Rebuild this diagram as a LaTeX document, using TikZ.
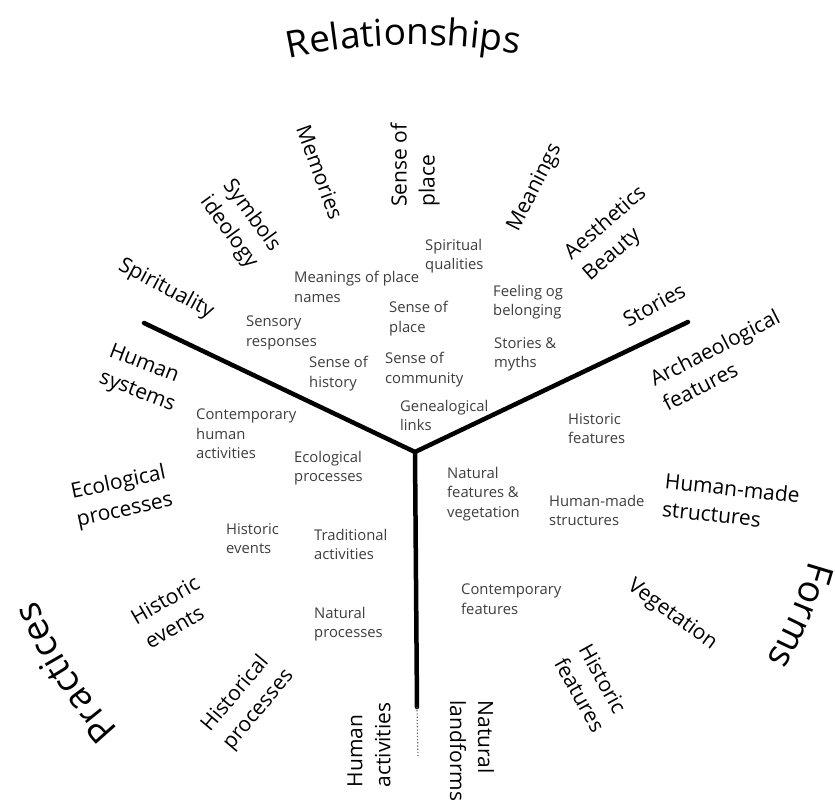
\documentclass[tikz,border=0pt]{standalone}
\usepackage{fontspec}
\setmainfont{Open Sans}
\usetikzlibrary{decorations.text}
\definecolor{itemgray}{HTML}{3D3D3D}
\newcommand{\itemfont}{\fontsize{14.8}{19.5}\selectfont}
\newcommand{\labelfont}{\fontsize{21}{28}\selectfont}
\newcommand{\titlefont}{\fontsize{37}{40}\selectfont}

\begin{document}
\begin{tikzpicture}[x=1pt,y=1pt]
  \tikzstyle{item}=[anchor=north west,align=left,inner sep=0pt,text=itemgray,font=\itemfont]
  \tikzstyle{theme}=[align=left,inner sep=0pt,font=\labelfont]
  \tikzstyle{divider}=[line width=4.5pt,line cap=round]
  \tikzstyle{trail}=[line width=1.2pt,dotted,black!60]
  \tikzstyle{heading}=[decorate,decoration={text along path,text align=center}]

  \useasboundingbox (-415,-349) rectangle (420,452);

    % the three arms
    \coordinate (hub) at (0,0);
    \coordinate (leftend) at (-271,129);
    \coordinate (rightend) at (273,130);
    \coordinate (downend) at (2,-255);
    \coordinate (trailend) at (3,-306);
    \draw[divider] (hub) -- (leftend);
    \draw[divider] (hub) -- (rightend);
    \draw[divider] (hub) -- (downend);
    \draw[trail] (downend) -- (trailend);

    % headings on the outer ring
    \coordinate (topring) at (0,-193);
    \path[heading,decoration={text={|\titlefont|Relationships}}]
        (topring) ++(121.1:600pt) arc[start angle=121.1,end angle=61.1,radius=600pt];
    \path[heading,decoration={text={|\titlefont|Practices}}]
        (hub) ++(242.3:406pt) arc[start angle=242.3,end angle=182.3,radius=406pt];
    \path[heading,decoration={text={|\titlefont|Forms}}]
        (hub) ++(7.0:409pt) arc[start angle=7.0,end angle=-53.0,radius=409pt];

    % outer labels
    \node[theme,rotate=-70] (memories)   at (-95,280)  {Memories};
    \node[theme,rotate=90]  (senseplace) at (0,287)    {Sense of\\place};
    \node[theme,rotate=63]  (meanings)   at (120,264)  {Meanings};
    \node[theme,rotate=41]  (aesthetics) at (200,218)  {Aesthetics\\Beauty};
    \node[theme,rotate=29]  (stories)    at (239,147)  {Stories};
    \node[theme,rotate=27]  (archaeo)    at (306,92)   {Archaeological\\features};
    \node[theme,rotate=-54] (symbols)    at (-175,228) {Symbols\\ideology};
    \node[theme,rotate=-28] (spirit)     at (-249,163) {Spirituality};
    \node[theme,rotate=-21] (humansys)   at (-273,73)  {Human\\systems};
    \node[theme,rotate=12]  (ecoproc)    at (-293,-45) {Ecological\\processes};
    \node[theme,rotate=30]  (histevents) at (-243,-160) {Historic\\events};
    \node[theme,rotate=50]  (histproc)   at (-167,-249) {Historical\\processes};
    \node[theme,rotate=90]  (humanact)   at (-46,-293) {Human\\activities};
    \node[theme,rotate=-90] (landforms)  at (57,-299)  {Natural\\landforms};
    \node[theme,rotate=-61] (histfeat)   at (177,-236) {Historic\\features};
    \node[theme,rotate=-36] (vegetation) at (257,-163) {Vegetation};
    \node[theme,rotate=-6]  (humanmade)  at (316,-50)  {Human-made\\structures};

    % inner items
    \node[item] (placenames)  at (-121,181) {Meanings of place\\names};
    \node[item] (spiritual)   at (10,213)   {Spiritual\\qualities};
    \node[item] (sensory)     at (-169,136) {Sensory\\responses};
    \node[item] (placesense)  at (-26,151)  {Sense of\\place};
    \node[item] (belonging)   at (78,167)   {Feeling og\\belonging};
    \node[item] (history)     at (-106,96)  {Sense of\\history};
    \node[item] (community)   at (-30,100)  {Sense of\\community};
    \node[item] (myths)       at (79,115)   {Stories \&\\myths};
    \node[item] (genealogy)   at (-15,52)   {Genealogical\\links};
    \node[item] (contemphuman) at (-219,43) {Contemporary\\human\\activities};
    \node[item] (ecoitem)     at (-121,1)   {Ecological\\processes};
    \node[item] (histfeatitem) at (153,39)  {Historic\\features};
    \node[item] (naturalfeat) at (32,-15)   {Natural\\features \&\\vegetation};
    \node[item] (madeitem)    at (134,-43)  {Human-made\\structures};
    \node[item] (eventitem)   at (-189,-71) {Historic\\events};
    \node[item] (traditional) at (-101,-77) {Traditional\\activities};
    \node[item] (contempfeat) at (46,-132)  {Contemporary\\features};
    \node[item] (naturalproc) at (-101,-155) {Natural\\processes};
\end{tikzpicture}
\end{document}
